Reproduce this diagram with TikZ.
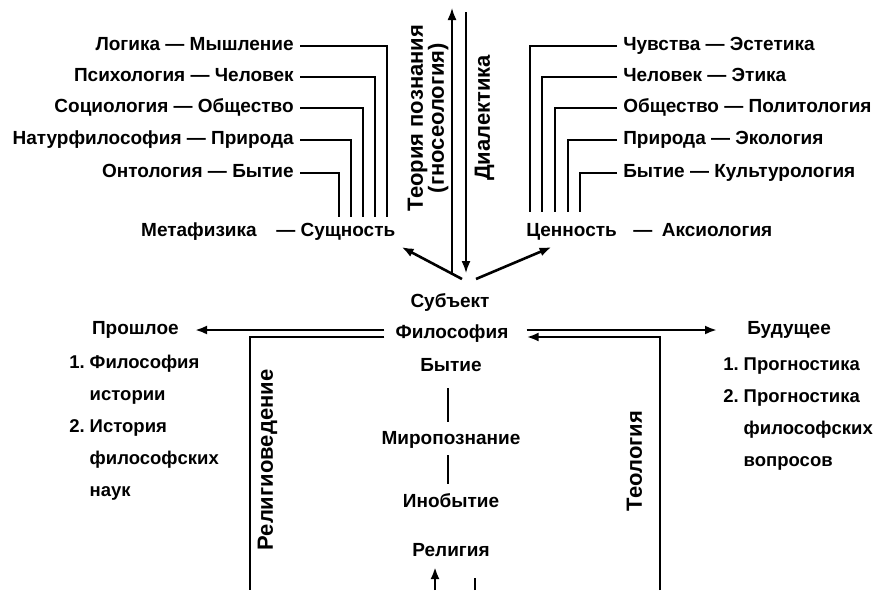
\documentclass[tikz,border=0pt]{standalone}
\usepackage{fontspec}
\setmainfont{Liberation Sans}
\usetikzlibrary{arrows.meta}

\begin{document}
\begin{tikzpicture}[x=1pt, y=-1pt, line width=2.6pt,
    every node/.style={font=\bfseries\fontsize{19}{22}\selectfont, inner sep=5pt, text height=13.5pt, text depth=4pt},
    arr/.style={-{Latex[length=12pt,width=9pt]}},
    axisline/.style={line width=1.6pt},
    multi/.style={text height=, text depth=, inner sep=0pt},
    sidelabel/.style={rotate=90, font=\bfseries\fontsize{22}{21}\selectfont},
    listtext/.style={multi, font=\bfseries\fontsize{18.5}{32}\selectfont}]
  \useasboundingbox (0,0) rectangle (877,590);

  % left branches
  \node (logic) [anchor=east] at (300,46) {Логика — Мышление};
  \node (psych) [anchor=east] at (300,77) {Психология — Человек};
  \node (socio) [anchor=east] at (300,108) {Социология — Общество};
  \node (natur) [anchor=east] at (300,140) {Натурфилософия — Природа};
  \node (onto) [anchor=east] at (300,173) {Онтология — Бытие};
  \node (meta) [anchor=east] at (263,232) {Метафизика};
  \node (ess) [anchor=west] at (270,232) {— Сущность};
  \coordinate (l1) at (387,217);
  \coordinate (l2) at (375,217);
  \coordinate (l3) at (363,217);
  \coordinate (l4) at (351,217);
  \coordinate (l5) at (339,217);
  \draw (logic.east) -| (l1);
  \draw (psych.east) -| (l2);
  \draw (socio.east) -| (l3);
  \draw (natur.east) -| (l4);
  \draw (onto.east) -| (l5);

  % right branches
  \node (feel) [anchor=west] at (617,46) {Чувства — Эстетика};
  \node (man) [anchor=west] at (617,77) {Человек — Этика};
  \node (society) [anchor=west] at (617,108) {Общество — Политология};
  \node (nature) [anchor=west] at (617,140) {Природа — Экология};
  \node (exist) [anchor=west] at (617,173) {Бытие — Культурология};
  \node (val) [anchor=west] at (520,232) {Ценность};
  \node (axio) [anchor=west] at (627,232) {—\hspace{0.5em}Аксиология};
  \coordinate (r1) at (530,212);
  \coordinate (r2) at (542,212);
  \coordinate (r3) at (555,212);
  \coordinate (r4) at (568,212);
  \coordinate (r5) at (580,212);
  \draw (feel.west) -| (r1);
  \draw (man.west) -| (r2);
  \draw (society.west) -| (r3);
  \draw (nature.west) -| (r4);
  \draw (exist.west) -| (r5);

  % vertical axis
  \coordinate (gnBot) at (452,273);
  \coordinate (gnTop) at (452,8);
  \coordinate (diTop) at (466,12);
  \coordinate (diBot) at (466,273);
  \draw[axisline, arr] (gnBot) -- (gnTop);
  \draw[axisline, arr] (diTop) -- (diBot);
  \node (gnos) [sidelabel, multi, align=center] at (428,118) {Теория познания\\(гносеология)};
  \node (dial) [sidelabel] at (485,118) {Диалектика};

  % subject and philosophy
  \coordinate (apexL) at (462,279);
  \coordinate (apexR) at (476,279);
  \draw[arr] (apexL) -- (ess.south east);
  \draw[arr] (apexR) -- ([xshift=-20pt]val.south);
  \node (subj) at (450,303) {Субъект};
  \node (phil) [inner xsep=10pt] at (452,334) {Философия};
  \node (past) [anchor=east, inner xsep=15pt] at (195,330) {Прошлое};
  \node (future) [anchor=west, inner xsep=29pt] at (717,330) {Будущее};
  \draw[arr] ([yshift=4pt]phil.west) -- (past.east);
  \draw[arr] ([xshift=7pt,yshift=4pt]phil.east) -- (future.west);
  \coordinate (relBot) at (250,590);
  \coordinate (theoBot) at (660,590);
  \draw ([yshift=-3pt]phil.west) -| (relBot);
  \draw[arr] (theoBot) |- ([xshift=7pt,yshift=-3pt]phil.east);
  \node (relst) [sidelabel] at (268,460) {Религиоведение};
  \node (theo) [sidelabel] at (637,461) {Теология};

  % center column
  \node (being) at (451,367) {Бытие};
  \node (world) at (451,440) {Миропознание};
  \node (other) at (451,503) {Инобытие};
  \node (relig) at (451,552) {Религия};
  \draw[shorten <=6pt, shorten >=3pt] ([xshift=-3pt]being.south) -- ([xshift=-3pt]world.north);
  \draw[shorten >=4pt] ([xshift=-3pt]world.south) -- ([xshift=-3pt]other.north);
  \coordinate (relUp) at (435,590);
  \coordinate (relDown) at (475,590);
  \draw[arr] (relUp) -- (relUp |- relig.south);
  \draw (relDown) -- ++(0,-12);

  % lists
  \node (pastList) [listtext, anchor=west] at (68,426) {\begin{tabular}{@{}r@{\hspace{5pt}}l@{}}1.&Философия\\&истории\\2.&История\\&философских\\&наук\end{tabular}};
  \node (futureList) [listtext, anchor=west] at (722,412) {\begin{tabular}{@{}r@{\hspace{5pt}}l@{}}1.&Прогностика\\2.&Прогностика\\&философских\\&вопросов\end{tabular}};
\end{tikzpicture}
\end{document}
